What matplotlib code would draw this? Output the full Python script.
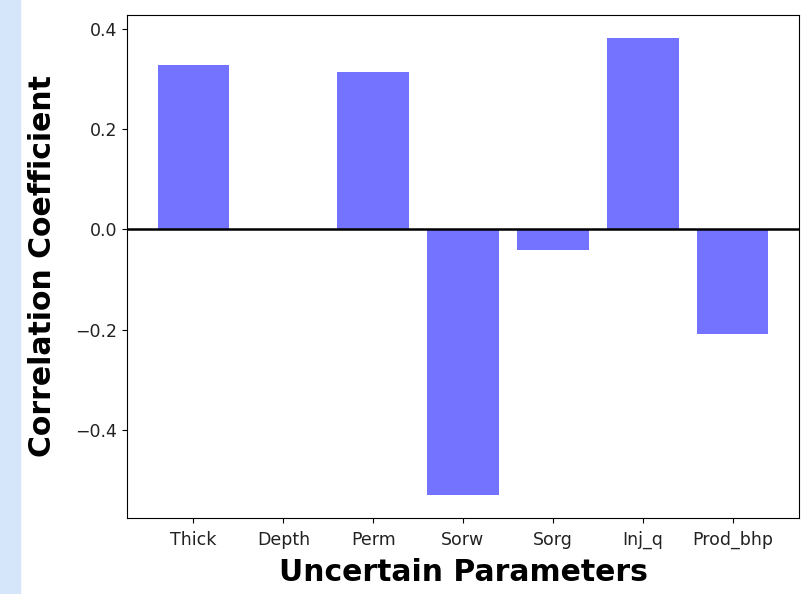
import matplotlib
matplotlib.use("Agg")
import matplotlib.pyplot as plt
from matplotlib.patches import Rectangle

params = ["Thick", "Depth", "Perm", "Sorw", "Sorg", "Inj_q", "Prod_bhp"]
corr = [0.328, 0.0, 0.314, -0.530, -0.042, 0.382, -0.208]

fig = plt.figure(figsize=(8.02, 5.94), dpi=100)
fig.patches.append(Rectangle((0, 0), 20/802, 1, transform=fig.transFigure,
                             color="#d6e6fa", zorder=-1))
ax = fig.add_axes([127/802, 1-518/594, (799-127)/802, (518-15)/594])
ax.bar(params, corr, color="blue", alpha=0.55, width=0.8)
ax.axhline(0, color="black", linewidth=1.8)
ax.set_yticks([-0.4, -0.2, 0.0, 0.2, 0.4])
ax.tick_params(labelsize=12.5, labelcolor="#222222")
ax.tick_params(axis="x", pad=6)
ax.set_xlabel("Uncertain Parameters", fontsize=21.5, fontweight="bold", labelpad=6)
ax.set_ylabel("Correlation Coefficient", fontsize=21.5, fontweight="bold", labelpad=13)
fig.savefig("out.png", dpi=100)
